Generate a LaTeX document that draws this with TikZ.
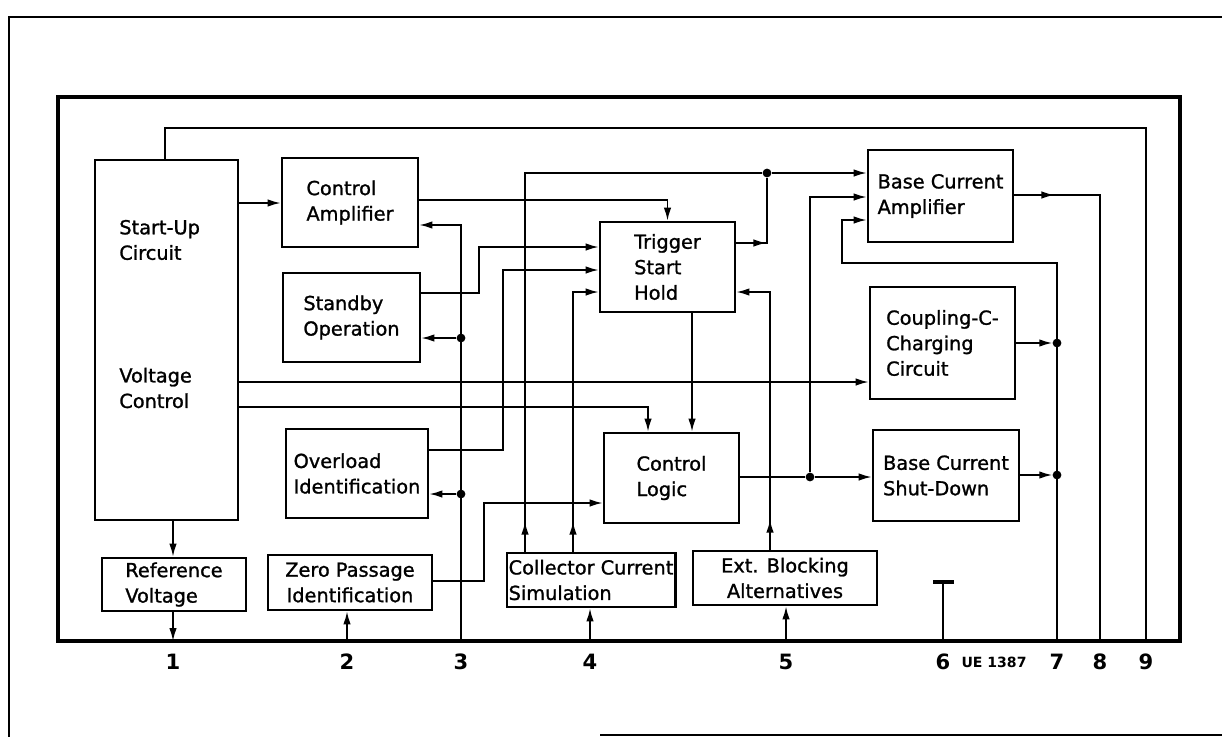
\documentclass[tikz,border=0pt]{standalone}
\usepackage{fontspec}
\setmainfont{DejaVu Sans}
\newfontfamily\diagfont{DejaVu Sans}[FakeBold=1.2]
\usetikzlibrary{arrows.meta, decorations.markings}

\begin{document}
\begin{tikzpicture}[x=0.02cm, y=-0.02cm]
  \tikzset{
    block/.style={draw, line width=1.6pt, align=left, inner sep=1pt,
      font=\diagfont\fontsize{11}{14.5}\selectfont},
    blocktext/.style={align=left, inner sep=0pt, font=\diagfont\fontsize{11}{14.5}\selectfont},
    wire/.style={line width=0.9pt},
    sig/.style={wire, -{Latex[length=2.6mm,width=1.5mm]}},
    midtip/.style={postaction={decorate, decoration={markings,
      mark=at position #1 with {\arrow{Latex[length=2.6mm,width=1.5mm]}}}}},
    junction/.style={circle, fill, inner sep=0pt, minimum size=5pt},
    pinno/.style={font=\bfseries\fontsize{12}{12}\selectfont}
  }
  \useasboundingbox (0,0) rectangle (1222,737);

  % sheet edge and package outline
  \draw[line width=0.6pt] (1222,17) -- (9,17) -- (9,737);
  \draw[line width=0.6pt] (600,735) -- (1222,735);
  \draw[line width=2.4pt] (58,97) rectangle (1180,641);

  % pins
  \foreach \n/\x in {1/173, 2/347, 3/461, 4/590, 5/786, 6/943, 7/1057, 8/1100, 9/1146}{
    \coordinate (t\n) at (\x,641);
    \node[pinno] (pin\n) at (\x,662) {\n};
  }
  \node[font=\bfseries\fontsize{8}{8}\selectfont] (code) at (994,662) {UE 1387};

  % blocks
  \node[block, minimum width=2.86cm, minimum height=7.2cm] (su) at (166.5,340) {};
  \node[blocktext, anchor=west] (sutext) at (119,240) {Start-Up\\Circuit};
  \node[blocktext, anchor=west] (vctext) at (119,388) {Voltage\\Control};
  \node[block, minimum width=2.72cm, minimum height=1.78cm] (ca) at (350,202.5) {Control\\Amplifier};
  \node[block, minimum width=2.74cm, minimum height=1.78cm] (sb) at (351.5,317.5) {Standby\\Operation};
  \node[block, minimum width=2.84cm, minimum height=1.78cm] (ol) at (357,473.5) {Overload\\Identification};
  \node[block, minimum width=2.88cm, minimum height=1.06cm] (rv) at (174,584.5) {Reference\\Voltage};
  \node[block, align=center, minimum width=3.28cm, minimum height=1.10cm] (zp) at (350,582.5) {Zero Passage\\Identification};
  \node[block, minimum width=2.70cm, minimum height=1.80cm] (tr) at (667.5,267) {Trigger\\Start\\Hold};
  \node[block, minimum width=2.70cm, minimum height=1.80cm] (cl) at (671.5,478) {Control\\Logic};
  \node[block, minimum width=3.36cm, minimum height=1.08cm] (cc) at (591,580) {Collector Current\\Simulation};
  \node[block, align=center, minimum width=3.68cm, minimum height=1.08cm] (eb) at (785,578) {Ext. Blocking\\Alternatives};
  \node[block, minimum width=2.90cm, minimum height=1.84cm] (bca) at (940.5,196) {Base Current\\Amplifier};
  \node[block, minimum width=2.90cm, minimum height=2.24cm] (cp) at (942.5,343) {Coupling-C-\\Charging\\Circuit};
  \node[block, minimum width=2.92cm, minimum height=1.82cm] (bcs) at (946,475.5) {Base Current\\Shut-Down};

  % junctions
  \node[junction] (j1) at (461,338) {};
  \node[junction] (j2) at (461,494) {};
  \node[junction] (j3) at (767,173) {};
  \node[junction] (j4) at (810,477) {};
  \node[junction] (j5) at (1057,343) {};
  \node[junction] (j6) at (1057,475) {};

  % supply line
  \draw[wire] (t9) |- (165,128) -- (165,128 |- su.north);

  % left part
  \draw[sig] (su.east |- 0,203) -- (ca.west |- 0,203);
  \draw[sig] (ca.east |- 0,200) -| (tr.north);
  \draw[sig] (t3) |- (ca.east |- 0,225);
  \draw[sig] (j1) -- (sb.east |- j1);
  \draw[sig] (j2) -- (ol.east |- j2);
  \draw[sig] (sb.east |- 0,293) -- (479,293) |- (tr.west |- 0,247);
  \draw[sig] (ol.east |- 0,450) -- (503,450) |- (tr.west |- 0,270);
  \draw[sig, midtip=0.6cm] (cc.north -| 573,0) |- (tr.west |- 0,292);
  \draw[sig] (su.south -| 173,0) -- (rv.north -| 173,0);
  \draw[sig] (rv.south -| t1) -- (t1);
  \draw[sig] (t2) -- (zp.south -| t2);
  \draw[sig] (zp.east |- 0,581) -- (484,581) |- (cl.west |- 0,503);

  % trigger and logic
  \draw[wire, midtip=0.6cm] (tr.east |- 0,243) -| (j3);
  \draw[sig] (j3) -- (bca.west |- j3);
  \draw[wire, midtip=0.6cm] (cc.north -| 525,0) |- (j3);
  \draw[sig, midtip=0.6cm] (eb.north -| 770,0) |- (tr.east |- 0,292);
  \draw[sig] (tr.south -| 692,0) -- (cl.north -| 692,0);
  \draw[sig] (su.east |- 0,407) -| (cl.north -| 648,0);
  \draw[sig] (su.east |- 0,382) -- (cp.west |- 0,382);
  \draw[sig] (t4) -- (cc.south -| t4);
  \draw[sig] (t5) -- (eb.south -| t5);

  % base current section
  \draw[wire] (cl.east |- j4) -- (j4);
  \draw[sig] (j4) -- (bcs.west |- j4);
  \draw[sig] (j4) |- (bca.west |- 0,197);
  \draw[wire, midtip=0.8cm] (bca.east |- 0,195) -| (t8);
  \draw[sig] (t7) |- (842,263) |- (bca.west |- 0,220);
  \draw[sig] (cp.east |- j5) -- (j5);
  \draw[sig] (bcs.east |- j6) -- (j6);

  % ground pin
  \draw[wire] (t6) -- (943,582);
  \draw[line width=2.6pt] (933,582) -- (954,582);
\end{tikzpicture}
\end{document}
